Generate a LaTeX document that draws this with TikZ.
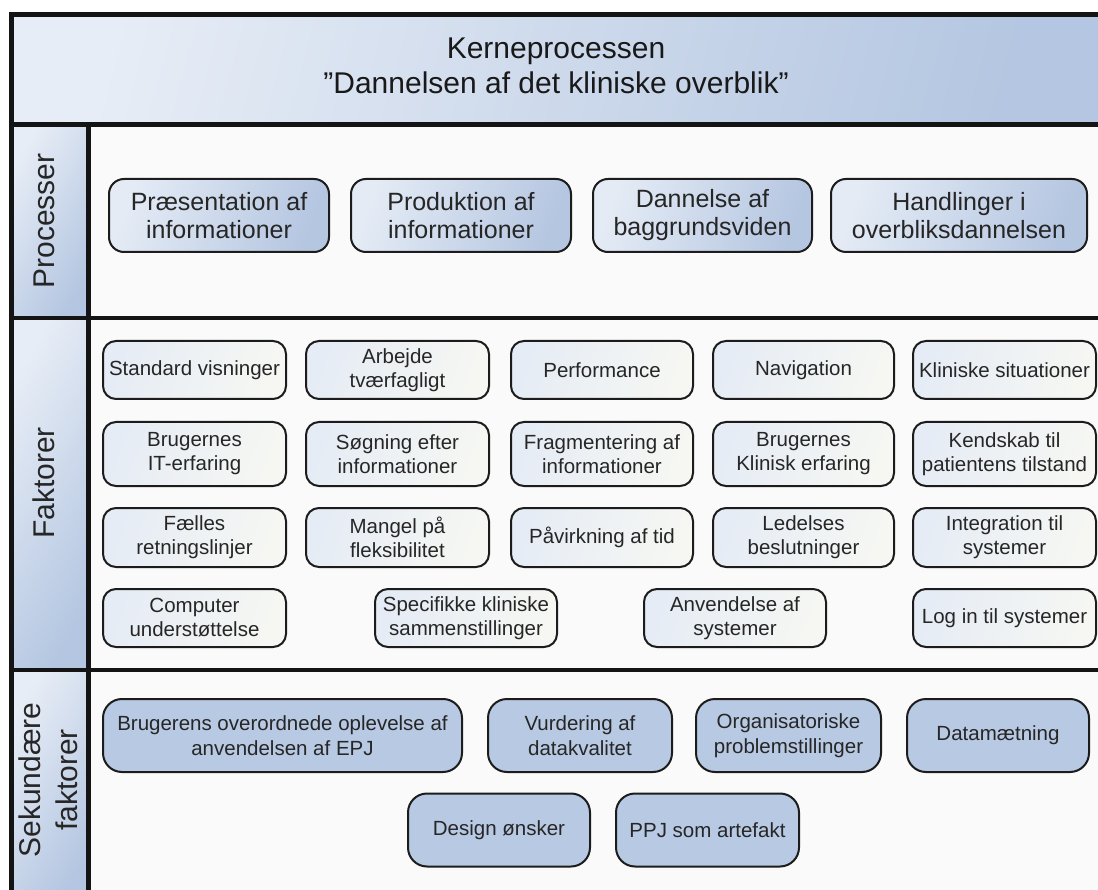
\documentclass[tikz,border=0pt]{standalone}
\usepackage{fontspec}
\setmainfont{Liberation Sans}
\definecolor{bandL}{HTML}{E7EDF6}
\definecolor{bandR}{HTML}{B4C6E1}
\definecolor{procL}{HTML}{E4EBF5}
\definecolor{procR}{HTML}{B5C6E1}
\definecolor{factL}{HTML}{E6ECF5}
\definecolor{factR}{HTML}{F6F7F3}
\definecolor{secF}{HTML}{B8C9E3}
\definecolor{txt}{HTML}{262626}
\definecolor{edge}{HTML}{1C1C1C}
\begin{document}
\begin{tikzpicture}[x=1pt,y=-1pt,
  frameline/.style={line width=4.8pt, draw=black!92},
  cell/.style={left color=bandL, right color=bandR, shading angle=60},
  boxbase/.style={draw=edge, line width=2pt, align=center, inner sep=0pt, text=txt},
  procbox/.style={boxbase, rounded corners=15pt, left color=procL, right color=procR,
    shading angle=70, minimum height=73pt, font=\fontsize{25}{28}\selectfont},
  factbox/.style={boxbase, rounded corners=13pt, left color=factL, right color=factR,
    shading angle=70, font=\fontsize{20.5}{24}\selectfont},
  secbox/.style={boxbase, rounded corners=19pt, fill=secF, minimum height=73pt,
    font=\fontsize{20.5}{24.5}\selectfont},
  bandlabel/.style={rotate=90, align=center, inner sep=0pt, text=txt,
    font=\fontsize{30}{37}\selectfont},
]
\useasboundingbox (0,0) rectangle (1098,890);
\fill[white] (0,0) rectangle (1098,890);

\begin{scope}
\clip (0,0) rectangle (1098,890);
% header band and the three label cells
\shade[left color=bandL, right color=bandR, shading angle=75] (11.7,14.5) rectangle (1104,124.5);
\shade[cell] (11.7,124.5) rectangle (88.7,318);
\shade[cell] (11.7,318) rectangle (88.7,670);
\shade[cell] (11.7,670) rectangle (88.7,900);
\fill[white!98!black] (88.7,124.5) rectangle (1104,900);
% grid lines of the table
\draw[frameline] (11.7,900) -- (11.7,14.5) -- (1104,14.5);
\draw[frameline] (11.7,124.5) -- (1104,124.5);
\draw[frameline] (11.7,318) -- (1104,318);
\draw[frameline] (11.7,670) -- (1104,670);
\draw[frameline] (88.7,124.5) -- (88.7,900);
\end{scope}

% header text
\node[align=center, inner sep=0pt, text=black!90, font=\fontsize{30}{35}\selectfont]
  (title) at (556,66) {Kerneprocessen\\"Dannelsen af det kliniske overblik”};

% row labels
\node[bandlabel] (lproc) at (44,221) {Processer};
\node[bandlabel] (lfakt) at (44,483) {Faktorer};
\node[bandlabel] (lsek) at (48,780) {Sekundære\\faktorer};

% processes
\node[procbox, minimum width=220pt] (p1) at (219,215.5) {Præsentation af\\informationer};
\node[procbox, minimum width=220pt] (p2) at (461,215.5) {Produktion af\\informationer};
\node[procbox, minimum width=219pt] (p3) at (702.5,215.5) {Dannelse af\\baggrundsviden};
\node[procbox, minimum width=256pt] (p4) at (959,215.5) {Handlinger i\\overbliksdannelsen};

% factors, row 1
\node[factbox, minimum width=183pt, minimum height=58pt] (f11) at (194.5,370) {Standard visninger};
\node[factbox, minimum width=183pt, minimum height=58pt] (f12) at (397.5,370) {Arbejde\\tværfagligt};
\node[factbox, minimum width=182pt, minimum height=58pt] (f13) at (602,370) {Performance};
\node[factbox, minimum width=181pt, minimum height=58pt] (f14) at (803.5,370) {Navigation};
\node[factbox, minimum width=183pt, minimum height=58pt] (f15) at (1004.5,370) {Kliniske situationer};
% factors, row 2
\node[factbox, minimum width=183pt, minimum height=64pt] (f21) at (194.5,454) {Brugernes\\IT-erfaring};
\node[factbox, minimum width=183pt, minimum height=64pt] (f22) at (397.5,454) {Søgning efter\\informationer};
\node[factbox, minimum width=182pt, minimum height=64pt] (f23) at (602,454) {Fragmentering af\\informationer};
\node[factbox, minimum width=181pt, minimum height=64pt] (f24) at (803.5,454) {Brugernes\\Klinisk erfaring};
\node[factbox, minimum width=183pt, minimum height=64pt] (f25) at (1004.5,454) {Kendskab til\\patientens tilstand};
% factors, row 3
\node[factbox, minimum width=183pt, minimum height=59pt] (f31) at (194.5,537.5) {Fælles\\retningslinjer};
\node[factbox, minimum width=183pt, minimum height=59pt] (f32) at (397.5,537.5) {Mangel på\\fleksibilitet};
\node[factbox, minimum width=182pt, minimum height=59pt] (f33) at (602,537.5) {Påvirkning af tid};
\node[factbox, minimum width=181pt, minimum height=59pt] (f34) at (803.5,537.5) {Ledelses\\beslutninger};
\node[factbox, minimum width=183pt, minimum height=59pt] (f35) at (1004.5,537.5) {Integration til\\systemer};
% factors, row 4
\node[factbox, minimum width=183pt, minimum height=58pt] (f41) at (194.5,618) {Computer\\understøttelse};
\node[factbox, minimum width=182pt, minimum height=58pt] (f42) at (466,618) {Specifikke kliniske\\sammenstillinger};
\node[factbox, minimum width=182pt, minimum height=58pt] (f43) at (735,618) {Anvendelse af\\systemer};
\node[factbox, minimum width=183pt, minimum height=58pt] (f44) at (1004.5,618) {Log in til systemer};

% secondary factors
\node[secbox, minimum width=359pt] (s1) at (282.5,735.5) {Brugerens overordnede oplevelse af\\anvendelsen af EPJ};
\node[secbox, minimum width=184pt] (s2) at (580,735.5) {Vurdering af\\datakvalitet};
\node[secbox, minimum width=185pt] (s3) at (788.5,735.5) {Organisatoriske\\problemstillinger};
\node[secbox, minimum width=182pt] (s4) at (998,735.5) {Datamætning};
\node[secbox, minimum width=182pt] (s5) at (499,830) {Design ønsker};
\node[secbox, minimum width=183pt] (s6) at (707.5,830) {PPJ som artefakt};
\end{tikzpicture}
\end{document}
